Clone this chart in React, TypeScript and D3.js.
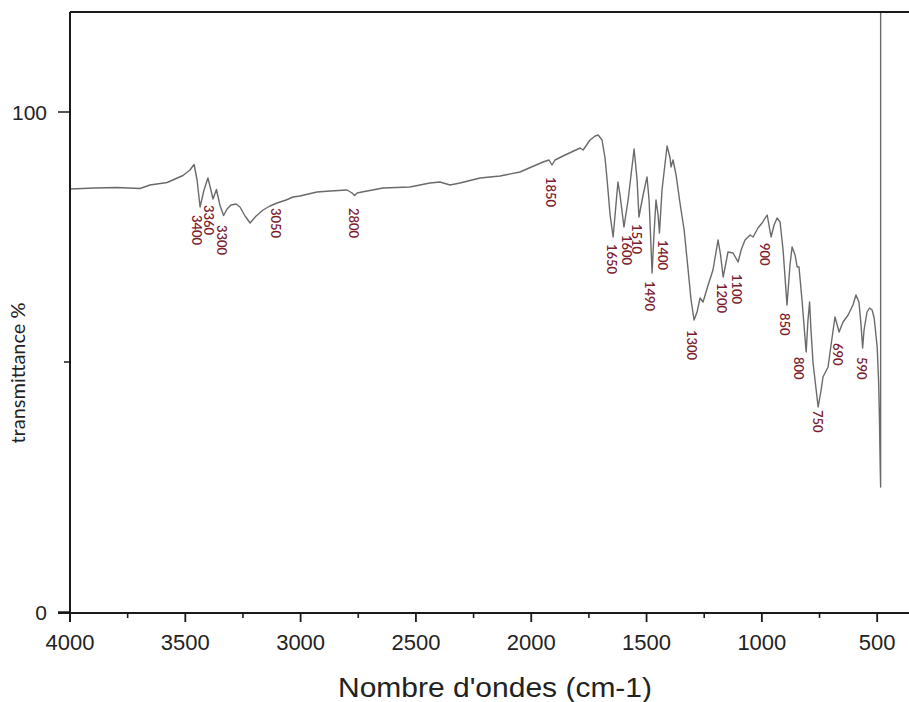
import React from "react";
import * as d3 from "d3";

// Spectrum (wavenumber in cm-1, transmittance in %)
const wavenumbers = [
  4000, 3892, 3796, 3696, 3653, 3579, 3510, 3480, 3462, 3449, 3436, 3419, 3402, 3389, 3380, 3365,
  3350, 3334, 3319, 3302, 3280, 3263, 3241, 3219, 3193, 3163, 3133, 3102, 3063, 3033, 3003, 2929,
  2872, 2799, 2777, 2766, 2755, 2734, 2643, 2526, 2439, 2396, 2352, 2309, 2222, 2135, 2049, 1949,
  1923, 1910, 1897, 1853, 1788, 1775, 1745, 1723, 1710, 1693, 1680, 1671, 1658, 1645, 1624, 1615,
  1598, 1580, 1554, 1541, 1533, 1515, 1498, 1489, 1476, 1468, 1459, 1450, 1444, 1433, 1411, 1398,
  1394, 1385, 1372, 1355, 1337, 1324, 1307, 1294, 1281, 1268, 1255, 1233, 1212, 1190, 1179, 1168,
  1155, 1147, 1125, 1103, 1090, 1073, 1051, 1038, 1017, 999, 977, 960, 947, 934, 921, 908,
  891, 878, 869, 856, 847, 839, 826, 808, 800, 793, 787, 778, 756, 743, 735, 713,
  700, 683, 665, 648, 626, 605, 592, 579, 570, 563, 557, 544, 533, 522, 513, 500,
  494, 490, 487, 485, 485,
];
const transmittance = [
  84.6, 84.8, 84.9, 84.7, 85.4, 85.9, 87.3, 88.4, 89.5, 86.4, 81.0, 84.4, 86.8, 84.4, 82.6, 84.5,
  81.4, 79.3, 80.6, 81.4, 81.6, 81.0, 79.2, 77.8, 79.2, 80.4, 81.2, 81.8, 82.4, 83.0, 83.2, 84.0,
  84.2, 84.4, 83.8, 83.3, 83.8, 84.0, 84.8, 85.0, 85.8, 86.0, 85.4, 85.8, 86.8, 87.2, 88.0, 90.0,
  90.4, 89.4, 90.4, 91.4, 92.8, 92.4, 94.4, 95.2, 95.4, 94.4, 90.8, 86.4, 79.4, 75.0, 86.0, 83.4,
  77.0, 82.4, 92.6, 86.4, 79.0, 83.4, 87.0, 82.4, 67.8, 75.4, 82.4, 79.4, 75.8, 84.4, 93.2, 90.8,
  89.0, 90.4, 87.4, 81.8, 76.4, 70.4, 62.4, 58.4, 60.0, 62.8, 62.0, 65.4, 68.4, 74.4, 71.4, 67.0,
  70.0, 72.0, 71.8, 70.0, 72.4, 74.4, 75.4, 75.0, 76.8, 77.8, 79.4, 75.0, 77.4, 78.8, 78.0, 72.4,
  61.4, 69.4, 73.0, 71.4, 69.0, 69.0, 62.4, 52.0, 58.4, 62.0, 56.4, 49.8, 41.0, 44.4, 47.0, 49.0,
  53.4, 59.0, 56.0, 58.0, 59.4, 61.4, 63.4, 62.0, 57.4, 52.8, 56.4, 60.0, 60.8, 60.4, 58.8, 53.0,
  46.4, 38.4, 29.4, 25.0, 121,
];

// Peak annotations: label, wavenumber where the label sits, transmittance at label top
const peakLabels = ["3400", "3360", "3300", "3050", "2800", "1850", "1650", "1600", "1510", "1490", "1400", "1300", "1200", "1100", "900", "850", "800", "750", "690", "590"];
const peakLabelWn = [3451, 3397, 3341, 3107, 2768, 1914, 1650, 1585, 1541, 1485, 1428, 1303, 1173, 1108, 986, 899, 839, 756, 670, 566];
const peakLabelT = [79.4, 81.4, 77.4, 80.8, 80.8, 87.0, 73.6, 75.4, 77.6, 66.2, 74.4, 56.4, 65.8, 67.6, 73.8, 59.8, 51.0, 40.4, 53.8, 51.0];

const xTicks = [4000, 3500, 3000, 2500, 2000, 1500, 1000, 500];
const xMinorTicks = [3750, 3250, 2750, 2250, 1750, 1250, 750];
const yTicks = [0, 100];
const yMinorTicks = [50];

const xTitle = "Nombre d'ondes (cm-1)";
const yTitle = "transmittance %";

const W = 909;
const H = 702;
const left = 70;
const right = 909;
const top = 12;
const bottom = 612;

export default function App() {
  const x = d3.scaleLinear().domain([4000, 362]).range([left, right]);
  const y = d3.scaleLinear().domain([0, 120]).range([bottom, top]);
  const pts: [number, number][] = wavenumbers.map((w, i) => [w, transmittance[i]]);
  const line = d3
    .line<[number, number]>()
    .x((d) => x(d[0]))
    .y((d) => y(d[1]))
    .curve(d3.curveLinear);

  const axisColor = "#1a1a1a";
  const sans = "'Liberation Sans', Arial, sans-serif";

  return (
    <svg
      width={W}
      height={H}
      style={{ position: "absolute", left: 0, top: 0, background: "#fff" }}
    >
      <defs>
        <clipPath id="plotClip">
          <rect x={left} y={top} width={right - left} height={bottom - top} />
        </clipPath>
      </defs>
      <rect x={0} y={0} width={W} height={H} fill="#fff" />

      {/* spectrum */}
      <path
        d={line(pts) || ""}
        fill="none"
        stroke="#6a6a6a"
        strokeWidth={1.4}
        strokeLinejoin="round"
        clipPath="url(#plotClip)"
      />

      {/* peak labels */}
      {peakLabels.map((t, i) => (
        <text
          key={t + i}
          transform={`translate(${x(peakLabelWn[i])},${y(peakLabelT[i])}) rotate(90)`}
          fontFamily="Lato, 'Open Sans', sans-serif"
          fontSize={13}
          fontWeight={600}
          fill="#7d1c2e"
          dominantBaseline="central"
          textAnchor="start"
        >
          {t}
        </text>
      ))}

      {/* frame */}
      <line x1={left} x2={right} y1={top} y2={top} stroke={axisColor} strokeWidth={2} />
      <line x1={left} x2={left} y1={top} y2={bottom + 10} stroke={axisColor} strokeWidth={2} />
      <line x1={left - 12} x2={right} y1={bottom + 1} y2={bottom + 1} stroke={axisColor} strokeWidth={2} />

      {/* x ticks */}
      {xTicks.map((t) => (
        <g key={"xt" + t}>
          <line x1={x(t)} x2={x(t)} y1={bottom} y2={bottom + 10} stroke={axisColor} strokeWidth={1.8} />
          <text
            x={x(t)}
            y={650}
            textAnchor="middle"
            fontFamily={sans}
            fontSize={22}
            fill="#222"
          >
            {t}
          </text>
        </g>
      ))}
      {xMinorTicks.map((t) => (
        <line key={"xm" + t} x1={x(t)} x2={x(t)} y1={bottom} y2={bottom + 6} stroke={axisColor} strokeWidth={1.6} />
      ))}

      {/* y ticks */}
      {yTicks.map((t) => (
        <g key={"yt" + t}>
          <line x1={left - 12} x2={left} y1={y(t)} y2={y(t)} stroke={axisColor} strokeWidth={1.5} />
          <text
            x={47}
            y={y(t) + 7.5}
            textAnchor="end"
            fontFamily={sans}
            fontSize={21}
            fill="#222"
          >
            {t}
          </text>
        </g>
      ))}
      {yMinorTicks.map((t) => (
        <line key={"ym" + t} x1={left - 6} x2={left} y1={y(t)} y2={y(t)} stroke={axisColor} strokeWidth={1.5} />
      ))}

      {/* axis titles */}
      <text
        x={495}
        y={697}
        textAnchor="middle"
        fontFamily={sans}
        fontSize={27}
        textLength={314}
        lengthAdjust="spacingAndGlyphs"
        fill="#222"
      >
        {xTitle}
      </text>
      <text
        transform={`translate(25,373) rotate(-90)`}
        textAnchor="middle"
        fontFamily="Lato, 'Open Sans', sans-serif"
        fontSize={20}
        fill="#222"
      >
        {yTitle}
      </text>
    </svg>
  );
}
